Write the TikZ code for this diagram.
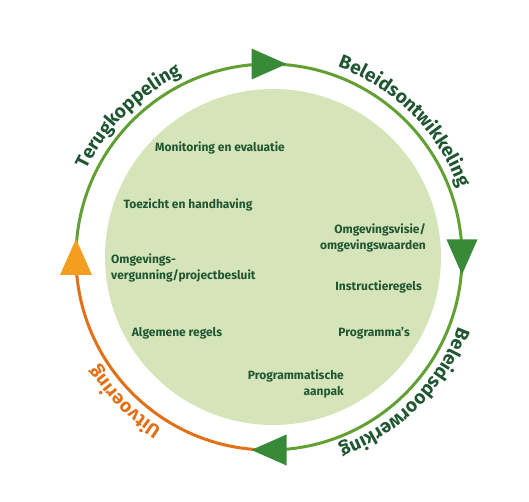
\documentclass[tikz,border=0pt]{standalone}
\usepackage{fontspec}
\setmainfont{Fira Sans}
\newfontfamily\phasefont{Fira Sans}[LetterSpace=5]
\usepackage{tikz}
\usetikzlibrary{decorations.text}
\definecolor{ringgreen}{RGB}{98,160,52}
\definecolor{tipgreen}{RGB}{56,138,56}
\definecolor{ringorange}{RGB}{226,112,22}
\definecolor{tiporange}{RGB}{244,158,32}
\definecolor{textgreen}{RGB}{32,86,50}
\definecolor{discgreen}{RGB}{214,228,186}

\begin{document}
\begin{tikzpicture}[x=1pt, y=1pt,
    inner/.style={font=\bfseries\fontsize{12}{16}\selectfont, text=textgreen, inner sep=0pt},
    phase/.style={decorate, decoration={text along path, text align=center,
        text color=#1, text={|\phasefont\bfseries\fontsize{19}{19}\selectfont|\phasetext}}}]
  \useasboundingbox (-269,-245) rectangle (260,257);
  % disc and ring
  \fill[discgreen] (4,0) circle (168pt);
  \draw[ringgreen, line width=3pt] (180:193) arc[start angle=180, end angle=-90, radius=193pt];
  \draw[ringorange, line width=3pt] (-90:193) arc[start angle=-90, end angle=-180, radius=193pt];
  % arrow heads, clockwise
  \foreach \a in {90,0,-90}
    \fill[tipgreen, rotate=\a] (193,-17.5) -- (177.5,17.5) -- (208.5,17.5) -- cycle;
  \fill[tiporange, rotate=180] (193,-18) -- (177,18) -- (209,18) -- cycle;
  % phase names round the ring
  \def\phasetext{Terugkoppeling}
  \path[phase=textgreen] (180:202) arc[start angle=180, end angle=90, radius=202pt];
  \def\phasetext{Beleidsontwikkeling}
  \path[phase=textgreen] (90:202) arc[start angle=90, end angle=0, radius=202pt];
  \def\phasetext{Beleidsdoorwerking}
  \path[phase=textgreen] (0:202) arc[start angle=0, end angle=-90, radius=202pt];
  \def\phasetext{Uitvoering}
  \path[phase=ringorange] (-90:202) arc[start angle=-90, end angle=-180, radius=202pt];
  % instruments in the disc
  \node[inner] (mon) at (-49,109) {Monitoring en evaluatie};
  \node[inner] (toe) at (-81,52) {Toezicht en handhaving};
  \node[inner, anchor=west, align=left] (vergunning) at (-158,-11) {Omgevings-\\vergunning/projectbesluit};
  \node[inner] (alg) at (-92,-76) {Algemene regels};
  \node[inner, anchor=east, align=right] (visie) at (157,19) {Omgevingsvisie/\\omgevingswaarden};
  \node[inner, anchor=east] (instr) at (153,-30) {Instructieregels};
  \node[inner, anchor=east] (prog) at (141,-76) {Programma’s};
  \node[inner, anchor=east, align=right] (aanpak) at (75,-127) {Programmatische\\aanpak};
\end{tikzpicture}
\end{document}
